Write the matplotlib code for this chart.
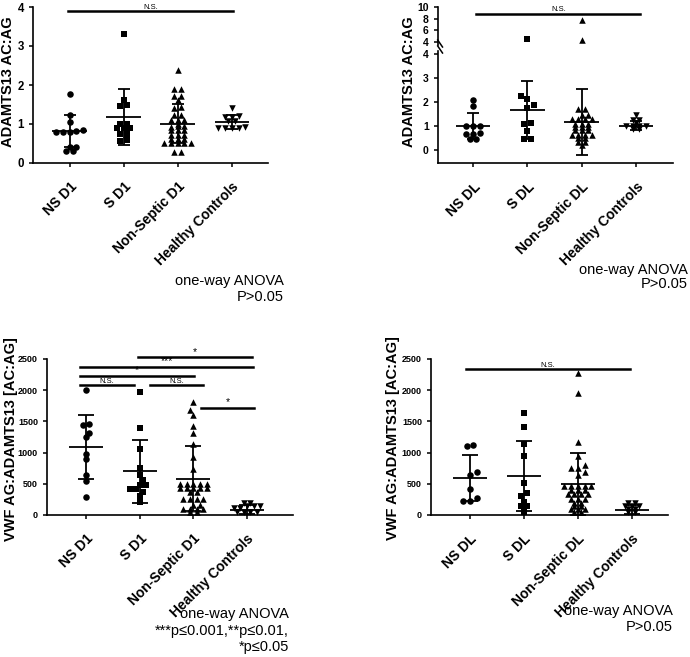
import matplotlib
matplotlib.use("Agg")
import matplotlib.pyplot as plt
import numpy as np

plt.rcParams['font.family'] = ['Liberation Sans', 'DejaVu Sans']

W, H = 690, 657

groups_d1 = ["NS D1", "S D1", "Non-Septic D1", "Healthy Controls"]
groups_dl = ["NS DL", "S DL", "Non-Septic DL", "Healthy Controls"]
markers = ["o", "s", "^", "v"]

# ADAMTS13 AC:AG, day 1
ac_d1_ns = [1.76, 1.22, 1.05, 0.84, 0.80, 0.80, 0.80, 0.82, 0.41, 0.41, 0.31, 0.31]
ac_d1_s = [3.30, 1.62, 1.46, 1.48, 1.01, 1.01, 0.91, 0.91, 0.91, 0.75, 0.75, 0.57, 0.59]
ac_d1_nonsep = [2.38, 1.91, 1.91, 1.72, 1.72, 1.61, 1.44, 1.42, 1.22, 1.22, 1.10, 1.10,
                1.10, 1.01, 0.94, 0.94, 0.93, 0.84, 0.84, 0.84, 0.71, 0.71, 0.71, 0.61,
                0.61, 0.61, 0.52, 0.52, 0.52, 0.52, 0.52, 0.28, 0.28]
ac_d1_hc = [1.42, 1.20, 1.18, 1.18, 1.07, 1.07, 0.90, 0.90, 0.90, 0.90, 0.92]
ac_d1_mean = [0.82, 1.18, 1.01, 1.04]
ac_d1_sd = [0.42, 0.71, 0.50, 0.18]

# ADAMTS13 AC:AG, last day
ac_dl_ns = [2.09, 1.84, 1.00, 1.00, 1.00, 0.70, 0.68, 0.66, 0.48, 0.47]
ac_dl_s = [4.50, 2.23, 2.12, 1.87, 1.74, 1.12, 1.09, 0.81, 0.47, 0.47]
ac_dl_nonsep = [7.80, 4.30, 1.70, 1.70, 1.46, 1.46, 1.30, 1.30, 1.30, 1.30, 1.10, 1.10,
                1.10, 0.95, 0.95, 0.95, 0.83, 0.83, 0.83, 0.62, 0.62, 0.62, 0.62, 0.50,
                0.50, 0.35, 0.35, 0.20]
ac_dl_hc = [1.45, 1.25, 1.25, 1.12, 1.00, 1.00, 1.00, 1.00, 0.86, 0.86]
ac_dl_mean = [1.00, 1.67, 1.18, 1.02]
ac_dl_sd = [0.53, 1.22, 1.37, 0.19]

# VWF AG:ADAMTS13, day 1
vwf_d1_ns = [2001, 1465, 1440, 1320, 1250, 982, 901, 649, 542, 284]
vwf_d1_s = [1964, 1395, 1062, 751, 649, 553, 483, 483, 418, 418, 365, 300, 204]
vwf_d1_nonsep = [1813, 1679, 1599, 1422, 1320, 1143, 928, 730, 500, 500, 500, 500, 500,
                 440, 440, 440, 440, 440, 365, 365, 258, 258, 258, 258, 161, 161, 97,
                 97, 97, 97, 43, 43]
vwf_d1_hc = [193, 193, 140, 140, 140, 107, 107, 43, 43, 43, 43]
vwf_d1_mean = [1085, 703, 580, 88]
vwf_d1_sd = [515, 505, 520, 78]

# VWF AG:ADAMTS13, last day
vwf_dl_ns = [1116, 1105, 697, 644, 418, 268, 231, 231]
vwf_dl_s = [1629, 1416, 1138, 945, 507, 347, 310, 214, 144, 144, 53]
vwf_dl_nonsep = [2269, 1948, 1170, 944, 805, 750, 750, 697, 644, 470, 470, 470, 470, 470,
                 408, 408, 408, 338, 338, 338, 338, 258, 258, 258, 193, 193, 140, 140,
                 97, 97, 97, 43, 43]
vwf_dl_hc = [193, 193, 140, 140, 140, 97, 97, 43, 43]
vwf_dl_mean = [597, 625, 495, 88]
vwf_dl_sd = [365, 565, 500, 75]

# significance bars (x from, x to, y, label)
sig_ac_d1 = [(-0.03, 3.02, 3.89, "N.S.")]
sig_ac_dl = [(0.06, 3.08, 8.88, "N.S.")]
sig_vwf_d1 = [(0.97, 3.10, 2527, "*"), (-0.11, 3.12, 2377, "***"), (-0.11, 2.01, 2232, "*"),
              (-0.11, 0.89, 2076, "N.S."), (1.19, 2.19, 2076, "N.S."), (2.15, 3.14, 1711, "*")]
sig_vwf_dl = [(-0.07, 2.96, 2334, "N.S.")]


def px_axes(x0, x1, y0, y1):
    return fig.add_axes([x0 / W, 1 - y1 / H, (x1 - x0) / W, (y1 - y0) / H])


def rows_layout(ax, xc, vals, gap=2.5, step=6.7, d=5.0):
    # prism-like scatter: values closer than `gap` px share a row;
    # lone points / pairs step aside when they would sit on the row below
    pts = ax.transData.transform(np.column_stack([np.full(len(vals), xc), vals]))
    ys = pts[:, 1]
    order = list(np.argsort(ys))
    rows, row = [], [order[0]]
    for a, b in zip(order[:-1], order[1:]):
        if ys[b] - ys[a] > gap:
            rows.append(row)
            row = []
        row.append(b)
    rows.append(row)
    off = np.zeros(len(vals))
    placed = []
    for row in rows:
        base = (np.arange(len(row)) - (len(row) - 1) / 2) * step
        sh = 0.0
        if len(row) <= 2 and placed:
            lean = np.mean([p[0] for p in placed])
            sign = -1 if lean > 0 else 1
            for cand in [0, sign * step / 2, -sign * step / 2, sign * step, -sign * step]:
                if all((b + cand - px) ** 2 + (ys[i] - py) ** 2 >= d * d
                       for b, i in zip(base, row) for px, py in placed):
                    sh = cand
                    break
        off[row] = base + sh
        placed += [(off[i], ys[i]) for i in row]
    return ax.transData.inverted().transform(np.column_stack([pts[:, 0] + off, ys]))[:, 0]


def style(ax, tick_fs, xaxis=True):
    for s in ["top", "right"]:
        ax.spines[s].set_visible(False)
    ax.spines["left"].set_linewidth(1.2)
    ax.spines["bottom"].set_linewidth(1.2)
    ax.tick_params(width=1.1, length=3, labelsize=tick_fs)
    for t in ax.get_yticklabels():
        t.set_fontweight("bold")
    if not xaxis:
        ax.spines["bottom"].set_visible(False)
        ax.set_xticks([])


def draw_points(ax, groups_data, lo=-np.inf, hi=np.inf, s=22):
    for i, vals in enumerate(groups_data):
        vals = np.array([v for v in vals if lo <= v < hi])
        if len(vals) == 0:
            continue
        xs = rows_layout(ax, i, vals)
        ax.scatter(xs, vals, marker=markers[i], s=s, c="black", linewidths=0,
                   zorder=3, clip_on=False)


def draw_bars(ax, means, sds, hw=0.32, cap=4.5):
    x = np.arange(len(means))
    ax.hlines(means, x - hw, x + hw, color="black", lw=1.3, zorder=4)
    ax.errorbar(x, means, yerr=sds, fmt="none", ecolor="black", elinewidth=1.3,
                capsize=cap, capthick=1.3, zorder=4, clip_on=False)


def draw_sig(ax, sigs, fs_ns=5.5, fs_star=7.5):
    for x0, x1, y, lab in sigs:
        ax.plot([x0, x1], [y, y], color="black", lw=1.8, clip_on=False, zorder=5)
        fs = fs_ns if lab == "N.S." else fs_star
        ax.annotate(lab, ((x0 + x1) / 2, y), xytext=(0, 0.5), textcoords="offset points",
                    ha="center", va="bottom", fontsize=fs, annotation_clip=False)


def xlabels(ax, labels):
    ax.set_xticks(range(4))
    ax.set_xticklabels(labels, rotation=45, ha="right", rotation_mode="anchor",
                       fontsize=10, fontweight="bold")
    ax.tick_params(axis="x", pad=9)


fig = plt.figure(figsize=(W / 100, H / 100), dpi=100)

# ---- panel 1
ax1 = px_axes(33, 268, 7, 163)
ax1.set_xlim(-0.68, 3.67)
ax1.set_ylim(0, 4)
ax1.set_yticks([0, 1, 2, 3, 4])
style(ax1, 8.3)
xlabels(ax1, groups_d1)
draw_points(ax1, [ac_d1_ns, ac_d1_s, ac_d1_nonsep, ac_d1_hc])
draw_bars(ax1, ac_d1_mean, ac_d1_sd)
draw_sig(ax1, sig_ac_d1)
fig.text(8 / W, 1 - 82 / H, "ADAMTS13 AC:AG", rotation=90, ha="center", va="center",
         fontsize=10.5, fontweight="bold")

# ---- panel 2 (broken axis)
ax2t = px_axes(437.7, 673, 7, 45)
ax2b = px_axes(437.7, 673, 51, 163)
for a in (ax2t, ax2b):
    a.set_xlim(-0.65, 3.68)
ax2t.set_ylim(3.49, 10)
ax2t.set_yticks([4, 6, 8, 10])
ax2b.set_ylim(-0.54, 4.125)
ax2b.set_yticks([0, 1, 2, 3, 4])
style(ax2t, 7.5, xaxis=False)
style(ax2b, 7.5)
xlabels(ax2b, groups_dl)
ac_dl = [ac_dl_ns, ac_dl_s, ac_dl_nonsep, ac_dl_hc]
draw_points(ax2b, ac_dl, hi=4)
draw_points(ax2t, ac_dl, lo=4)
draw_bars(ax2b, ac_dl_mean, ac_dl_sd)
draw_sig(ax2t, sig_ac_dl)
for yb in (45, 51):
    fig.add_artist(plt.Line2D([437.7 / W, 442.5 / W], [1 - (yb - 5) / H, 1 - (yb + 2) / H],
                              color="black", lw=1.1))
fig.text(409 / W, 1 - 82 / H, "ADAMTS13 AC:AG", rotation=90, ha="center", va="center",
         fontsize=10.5, fontweight="bold")

# ---- panel 3
ax3 = px_axes(47, 293, 359, 515)
ax3.set_xlim(-0.73, 3.86)
ax3.set_ylim(0, 2500)
ax3.set_yticks(range(0, 2501, 500))
style(ax3, 6.5)
xlabels(ax3, groups_d1)
draw_points(ax3, [vwf_d1_ns, vwf_d1_s, vwf_d1_nonsep, vwf_d1_hc])
draw_bars(ax3, vwf_d1_mean, vwf_d1_sd, cap=5.5)
draw_sig(ax3, sig_vwf_d1)
fig.text(11 / W, 1 - 439 / H, "VWF AG:ADAMTS13 [AC:AG]", rotation=90, ha="center",
         va="center", fontsize=10.5, fontweight="bold")

# ---- panel 4
ax4 = px_axes(431, 668, 359, 515)
ax4.set_xlim(-0.72, 3.67)
ax4.set_ylim(0, 2500)
ax4.set_yticks(range(0, 2501, 500))
style(ax4, 6.5)
xlabels(ax4, groups_dl)
draw_points(ax4, [vwf_dl_ns, vwf_dl_s, vwf_dl_nonsep, vwf_dl_hc])
draw_bars(ax4, vwf_dl_mean, vwf_dl_sd, cap=5.5)
draw_sig(ax4, sig_vwf_dl)
fig.text(393 / W, 1 - 438 / H, "VWF AG:ADAMTS13 [AC:AG]", rotation=90, ha="center",
         va="center", fontsize=10.5, fontweight="bold")

# ANOVA notes
notes = [
    (284, [281, 297], ["one-way ANOVA", "P>0.05"]),
    (688, [270, 284], ["one-way ANOVA", "P>0.05"]),
    (289, [614, 631, 647], ["one-way ANOVA", "***p\u22640.001,**p\u22640.01,", "*p\u22640.05"]),
    (673, [611, 627], ["one-way ANOVA", "P>0.05"]),
]
for xr, ys, lines in notes:
    for y, t in zip(ys, lines):
        fig.text(xr / W, 1 - y / H, t, ha="right", va="center", fontsize=10.5)

fig.savefig("out.png", dpi=100)
